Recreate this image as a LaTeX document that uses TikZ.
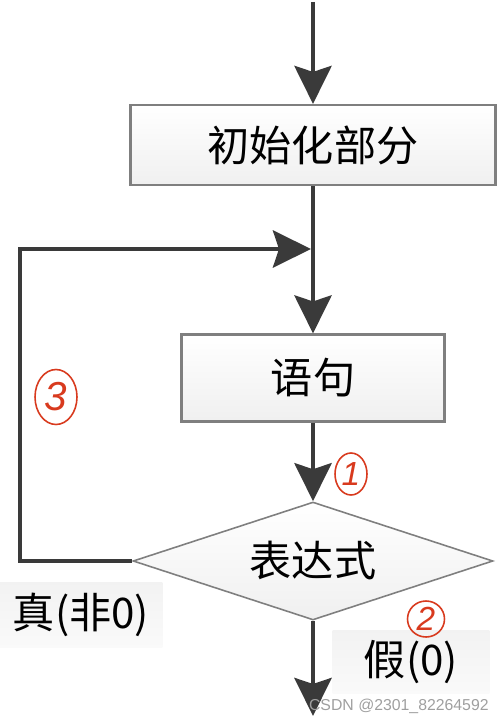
\documentclass[tikz,border=0pt]{standalone}
\usepackage{fontspec}
\usepackage{tikz}
\usetikzlibrary{shapes.geometric,arrows.meta}
\newfontfamily\cjk{Noto Sans CJK SC}
\setsansfont{Liberation Sans}
\definecolor{flechagris}{HTML}{3A3A3A}
\definecolor{bordegris}{HTML}{7F7F7F}
\definecolor{rojo}{HTML}{D83A1E}

\tikzset{
  caja/.style={rectangle, draw=bordegris, line width=1.2pt, top color=white, bottom color=gray!12,
    inner sep=0pt, font=\cjk\fontsize{24}{28}\selectfont},
  rombo/.style={diamond, aspect=3, draw=bordegris, line width=0.9pt, top color=white, bottom color=gray!12,
    inner sep=0pt, minimum width=7.2cm, minimum height=2.36cm, font=\cjk\fontsize{24}{28}\selectfont},
  etiqueta/.style={rectangle, top color=gray!10, bottom color=gray!4, inner sep=0pt,
    font=\cjk\fontsize{24}{28}\selectfont},
  marca/.style={ellipse, draw=rojo, line width=0.9pt, text=rojo, inner sep=0pt,
    font=\sffamily\itshape\fontsize{19}{20}\selectfont},
  flujo/.style={draw=flechagris, line width=2.8pt, line join=miter,
    -{Stealth[length=0.76cm,width=0.74cm,inset=0.12cm]}}
}

\begin{document}
\begin{tikzpicture}[x=0.02cm, y=-0.02cm]
        \useasboundingbox (0,0) rectangle (500,716); % marco
        \def\cx{313}
        % nodos
        \node[caja, minimum width=7.3cm, minimum height=1.6cm] (inicio) at (\cx,145) {初始化部分};
        \node[caja, minimum width=5.26cm, minimum height=1.74cm] (sentencia) at (\cx,378) {语句};
        \node[rombo] (expr) at (\cx,561) {表达式};
        \node[etiqueta, minimum width=3.26cm, minimum height=1.3cm] (cierto) at (81,615) {真(非0)};
        \node[etiqueta, minimum width=3.14cm, minimum height=1.26cm] (falso) at (411,662) {假(0)};
        % puntos libres
        \coordinate (arriba) at (\cx,2);
        \coordinate (abajo) at (\cx,716);
        \coordinate (esquina) at (20,249);
        \coordinate (union) at (\cx-2,249);
        % flechas
        \draw[flujo] (arriba) -- (inicio);
        \draw[flujo] (inicio) -- (sentencia);
        \draw[flujo] (sentencia) -- (expr);
        \draw[flujo] (expr) -- (abajo);
        \draw[flujo] (expr.west) -| (esquina) -- (union); % bucle
        % marcas a mano
        \node[marca, minimum width=0.64cm, minimum height=0.84cm] (m1) at (351,474) {1};
        \node[marca, minimum width=0.74cm, minimum height=0.72cm] (m2) at (426,619) {2};
        \node[marca, minimum width=0.84cm, minimum height=1.1cm, font=\sffamily\itshape\fontsize{23}{24}\selectfont] (m3) at (56,397) {3};
        % marca de agua
        \node[anchor=base east, text=gray!75, inner sep=0pt, font=\sffamily\fontsize{9}{10}\selectfont] (agua) at (489,710) {CSDN @2301\_82264592};
\end{tikzpicture}
\end{document}
